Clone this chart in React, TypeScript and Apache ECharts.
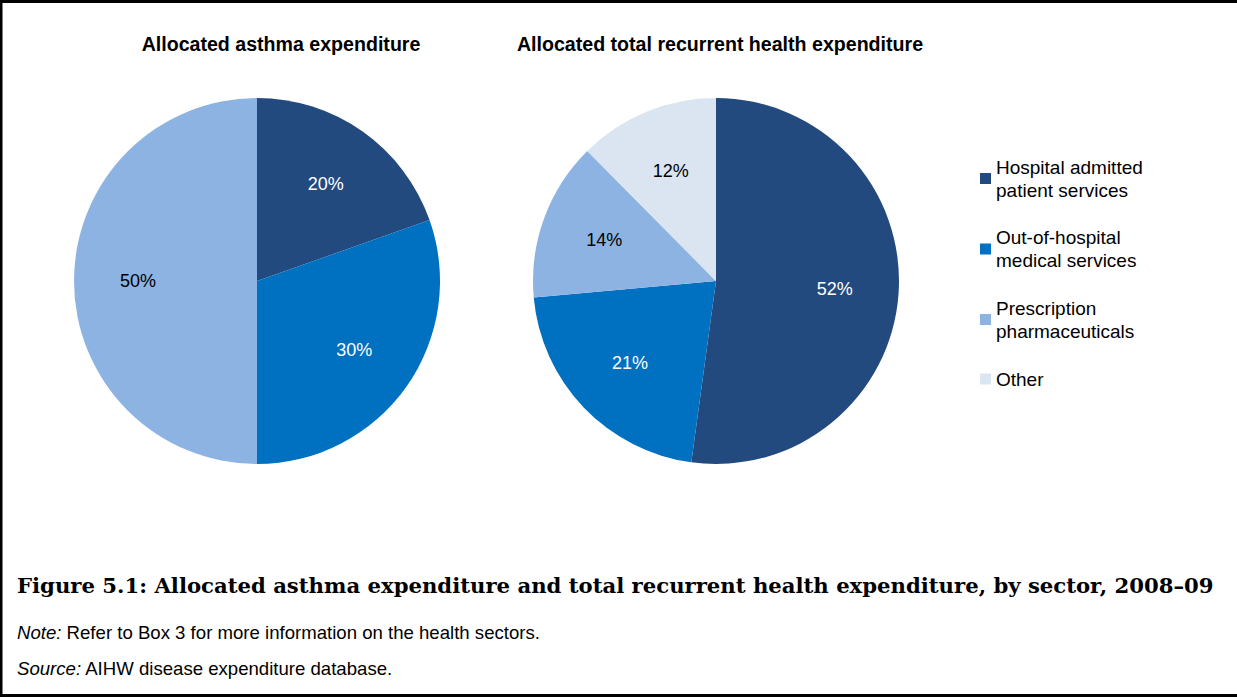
import React, { useEffect, useRef } from "react";
import * as echarts from "echarts";

// ---- Data ----
const categories = [
  "Hospital admitted patient services",
  "Out-of-hospital medical services",
  "Prescription pharmaceuticals",
  "Other",
];
const legendLabels = [
  "Hospital admitted\npatient services",
  "Out-of-hospital\nmedical services",
  "Prescription\npharmaceuticals",
  "Other",
];
const asthmaValues = [19.6, 30.4, 50.0];
const totalValues = [52.1, 21.4, 14.0, 12.4];
const chartTitles = [
  "Allocated asthma expenditure",
  "Allocated total recurrent health expenditure",
];
const captionText =
  "Figure 5.1: Allocated asthma expenditure and total recurrent health expenditure, by sector, 2008\u201309";
const noteText = "Refer to Box 3 for more information on the health sectors.";
const sourceText = "AIHW disease expenditure database.";

// ---- Styles ----
const colors = ["#234A7E", "#0070C0", "#8DB3E2", "#DBE5F1"];
const labelColors = ["#ffffff", "#ffffff", "#000000", "#000000"];
const SANS = '"Liberation Sans", Arial, sans-serif';
const SERIF = '"DejaVu Serif", "Liberation Serif", serif';

const W = 1237;
const H = 697;
const centers: [number, number][] = [
  [257, 281],
  [716, 281],
];
const RADIUS = 183;
const LABEL_SCALE = 1.26;

function makeData(values: number[]) {
  return values.map((v, i) => ({
    name: categories[i],
    value: v,
    itemStyle: { color: colors[i] },
    label: { color: labelColors[i] },
  }));
}

export default function App() {
  const ref = useRef<HTMLDivElement>(null);

  useEffect(() => {
    if (!ref.current) return;
    const chart = echarts.init(ref.current, undefined, { renderer: "svg" });

    const labelLayout = (p: any) => {
      const c = centers[p.seriesIndex];
      const r = p.labelRect;
      const lx = r.x + r.width / 2;
      const ly = r.y + r.height / 2;
      return {
        x: c[0] + LABEL_SCALE * (lx - c[0]),
        y: c[1] + LABEL_SCALE * (ly - c[1]),
        align: "center",
        verticalAlign: "middle",
      };
    };

    const pieBase = {
      type: "pie",
      radius: RADIUS,
      startAngle: 90,
      clockwise: true,
      avoidLabelOverlap: false,
      emphasis: { disabled: true },
      label: {
        show: true,
        position: "inside",
        fontFamily: SANS,
        fontSize: 18,
        formatter: (p: any) => Math.round(p.value) + "%",
      },
      labelLine: { show: false },
      itemStyle: { borderWidth: 0 },
      labelLayout,
    };

    const titleStyle = { fontFamily: SANS, fontSize: 19.6, fontWeight: "bold", color: "#000" };

    chart.setOption({
      animation: false,
      backgroundColor: "#ffffff",
      title: [
        { text: chartTitles[0], left: 276, top: 29, textAlign: "center", textStyle: titleStyle },
        { text: chartTitles[1], left: 715, top: 29, textAlign: "center", textStyle: titleStyle },
      ],
      legend: {
        orient: "vertical",
        left: 975,
        top: 139,
        icon: "rect",
        itemWidth: 11,
        itemHeight: 11,
        itemGap: 1.5,
        selectedMode: false,
        formatter: (name: string) => legendLabels[categories.indexOf(name)],
        textStyle: {
          fontFamily: SANS,
          fontSize: 19,
          lineHeight: 23,
          color: "#000",
          padding: [23, 0, 0, 0],
        },
        data: categories.map((name, i) => ({
          name,
          textStyle:
            i === categories.length - 1
              ? { padding: [12, 0, 12, 0] }
              : { padding: [23, 0, 0, 0] },
        })),
      },
      series: [
        { ...pieBase, name: chartTitles[0], center: centers[0], data: makeData(asthmaValues) },
        { ...pieBase, name: chartTitles[1], center: centers[1], data: makeData(totalValues) },
      ],
      graphic: [
        { type: "rect", shape: { x: 0, y: 0, width: W, height: 3 }, style: { fill: "#000" } },
        { type: "rect", shape: { x: 0, y: 0, width: 2.5, height: H }, style: { fill: "#000" } },
        { type: "rect", shape: { x: 0, y: H - 3, width: W, height: 3 }, style: { fill: "#000" } },
        {
          type: "text",
          x: 17,
          y: 585,
          style: {
            text: captionText,
            font: `bold 21.2px ${SERIF}`,
            fill: "#000",
            verticalAlign: "middle",
          },
        },
        {
          type: "text",
          x: 17,
          y: 632,
          style: {
            text: "{i|Note:} " + noteText,
            fontFamily: SANS,
            fontSize: 18.6,
            fill: "#000",
            verticalAlign: "middle",
            rich: { i: { fontStyle: "italic", fontFamily: SANS, fontSize: 18.6 } },
          },
        },
        {
          type: "text",
          x: 17,
          y: 668,
          style: {
            text: "{i|Source:} " + sourceText,
            fontFamily: SANS,
            fontSize: 18.6,
            fill: "#000",
            verticalAlign: "middle",
            rich: { i: { fontStyle: "italic", fontFamily: SANS, fontSize: 18.6 } },
          },
        },
      ],
    });

    return () => chart.dispose();
  }, []);

  return (
    <div
      ref={ref}
      style={{ position: "absolute", left: 0, top: 0, width: W, height: H, background: "#fff" }}
    />
  );
}
